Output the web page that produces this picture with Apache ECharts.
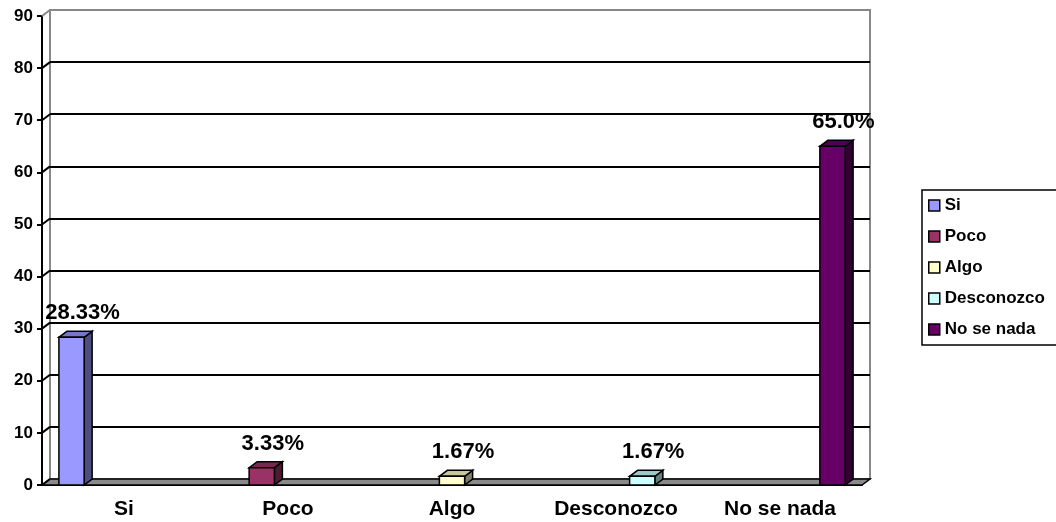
<!DOCTYPE html>
<html>
<head>
<meta charset="utf-8"/>
<title>Grafico</title>
<script src="https://cdn.jsdelivr.net/npm/echarts@6/dist/echarts.min.js"></script>
<style>
body{margin:0;background:#fff}
#main{width:1056px;height:522px}
</style>
</head>
<body>
<div id="main"></div>
<script>
var categories = ['Si', 'Poco', 'Algo', 'Desconozco', 'No se nada'];
var values = [28.33, 3.33, 1.67, 1.67, 65.0];
var valueLabels = ['28.33%', '3.33%', '1.67%', '1.67%', '65.0%'];
var colors = ['#9999FF', '#993366', '#FFFFCC', '#CCFFFF', '#660066'];
var yTicks = [0, 10, 20, 30, 40, 50, 60, 70, 80, 90];

// depth of the fake 3d (back wall offset)
var DX = 8, DY = -6;
var font = 'Arial, "Liberation Sans", sans-serif';

function shade(hex, k){
    var n = parseInt(hex.slice(1), 16);
    var r = Math.round(((n >> 16) & 255) * k);
    var g = Math.round(((n >> 8) & 255) * k);
    var b = Math.round((n & 255) * k);
    return 'rgb(' + r + ',' + g + ',' + b + ')';
}

function barRenderer(s){
    return function(params, api){
        var top = api.coord([api.value(0), api.value(1)]);
        var base = api.coord([api.value(0), 0]);
        var band = api.size([1, 0])[0];
        var slot = band * 0.16;
        var cx = top[0] + (s - 2) * slot;
        var x0 = cx - slot / 2 + 0.5, x1 = cx + slot / 2 - 0.5;
        var y0 = top[1], y1 = base[1];
        var col = colors[s];
        var line = {stroke: '#000', lineWidth: 1.5};
        return {
            type: 'group',
            children: [
                {type: 'polygon', shape: {points: [[x1, y0], [x1, y1], [x1 + DX, y1 + DY], [x1 + DX, y0 + DY]]},
                    style: Object.assign({fill: shade(col, 0.5)}, line)},
                {type: 'polygon', shape: {points: [[x0, y0], [x1, y0], [x1 + DX, y0 + DY], [x0 + DX, y0 + DY]]},
                    style: Object.assign({fill: shade(col, 0.78)}, line)},
                {type: 'rect', shape: {x: x0, y: y0, width: x1 - x0, height: y1 - y0},
                    style: Object.assign({fill: col}, line)},
                {type: 'text', style: {text: valueLabels[s], x: cx + 11, y: y0 - 24,
                    align: 'center', verticalAlign: 'middle',
                    font: 'bold 22px ' + font, fill: '#000'}}
            ]
        };
    };
}

var series = [];

// floor of the 3d box
series.push({
    type: 'custom', name: 'floor', xAxisIndex: 0, yAxisIndex: 0, silent: true, z: 1,
    data: [[0, 0]],
    renderItem: function(params, api){
        var cs = params.coordSys;
        var yb = cs.y + cs.height;
        return {type: 'polygon',
            shape: {points: [[cs.x, yb], [cs.x + cs.width, yb], [cs.x + cs.width + DX, yb + DY], [cs.x + DX, yb + DY]]},
            style: {fill: '#8a8a8a', stroke: '#000', lineWidth: 1.5}};
    }
});

// short diagonals joining front axis ticks to the back wall gridlines
series.push({
    type: 'custom', name: 'joins', xAxisIndex: 0, yAxisIndex: 0, silent: true, z: 1,
    data: yTicks.map(function(v){ return [0, v]; }),
    renderItem: function(params, api){
        var cs = params.coordSys;
        var y = api.coord([0, api.value(1)])[1];
        var last = api.value(1) === yTicks[yTicks.length - 1];
        return {type: 'line',
            shape: {x1: cs.x, y1: y, x2: cs.x + DX, y2: y + DY},
            style: {stroke: last ? '#888' : '#000', lineWidth: 2}};
    }
});

categories.forEach(function(name, s){
    series.push({
        type: 'custom', name: name, xAxisIndex: 0, yAxisIndex: 0, z: 3, clip: false,
        itemStyle: {color: colors[s], borderColor: '#000', borderWidth: 1},
        data: [[s, values[s]]],
        renderItem: barRenderer(s)
    });
});

var myChart = echarts.init(document.getElementById('main'));

var option = {
    animation: false,
    backgroundColor: '#fff',
    grid: [
        {left: 42, top: 16, width: 820, height: 469},
        {left: 50, top: 10, width: 820, height: 469, show: true,
            borderColor: '#888', borderWidth: 2, backgroundColor: 'transparent'}
    ],
    legend: {
        orient: 'vertical', left: 922, top: 190,
        padding: [7, 40, 7, 6],
        borderColor: '#000', borderWidth: 1.5,
        itemWidth: 11, itemHeight: 11, itemGap: 14,
        icon: 'rect',
        itemStyle: {borderColor: '#000', borderWidth: 1.5},
        textStyle: {fontFamily: font, fontWeight: 'bold', fontSize: 17, lineHeight: 16, color: '#000'},
        data: categories
    },
    xAxis: [
        {type: 'category', gridIndex: 0, data: categories,
            axisLine: {lineStyle: {color: '#000', width: 2}},
            axisTick: {length: 7, lineStyle: {color: '#000', width: 2}},
            axisLabel: {margin: 14, color: '#000', fontFamily: font, fontWeight: 'bold', fontSize: 21}},
        {type: 'category', gridIndex: 1, data: categories, show: false}
    ],
    yAxis: [
        {type: 'value', gridIndex: 0, min: 0, max: 90, interval: 10,
            axisLine: {show: true, lineStyle: {color: '#000', width: 2}},
            axisTick: {show: true, length: 5, lineStyle: {color: '#000', width: 2}},
            axisLabel: {margin: 9, color: '#000', fontFamily: font, fontWeight: 'bold', fontSize: 17},
            splitLine: {show: false}},
        {type: 'value', gridIndex: 1, min: 0, max: 90, interval: 10,
            axisLine: {show: false}, axisTick: {show: false}, axisLabel: {show: false},
            splitLine: {show: true, showMinLine: false, showMaxLine: false,
                lineStyle: {color: '#000', width: 2}}}
    ],
    series: series
};

myChart.setOption(option);
</script>
</body>
</html>
